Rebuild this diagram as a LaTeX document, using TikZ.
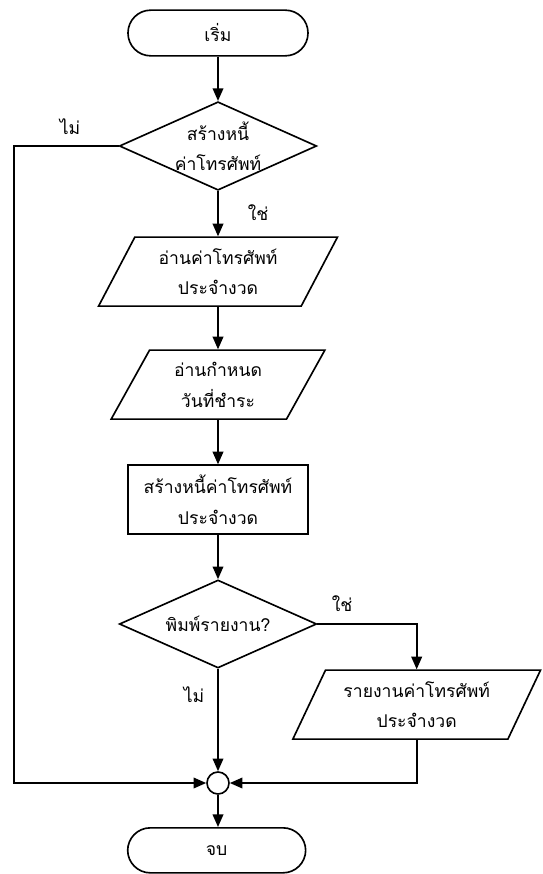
\documentclass[tikz,border=0pt]{standalone}
\usepackage{fontspec}
\newfontfamily\thaifont[Script=Thai]{Loma}
\usetikzlibrary{shapes.geometric, arrows.meta}

\begin{document}
\begin{tikzpicture}[line width=1.4pt, font=\thaifont\fontsize{15}{26}\selectfont,
  >={Triangle[length=0.38cm, width=0.32cm]}]
\tikzstyle{every node} = [fill=white, draw=none, align=center]
\tikzstyle{term} = [rectangle, draw, rounded corners=0.68cm, minimum width=5.4cm, minimum height=1.37cm]
\tikzstyle{decide} = [diamond, draw, aspect=2.2, minimum width=5.92cm, minimum height=2.64cm, inner sep=0pt]
\tikzstyle{io} = [trapezium, draw, trapezium left angle=63, trapezium right angle=117,
  trapezium stretches=true, minimum height=2.07cm]
\tikzstyle{proc} = [rectangle, draw, minimum width=5.4cm, minimum height=2.07cm]
\tikzstyle{tag} = [fill=none, inner sep=1pt]
\useasboundingbox (0,0) rectangle (16.29,-26.22);

% main column
\node (start) at (6.54,-0.99) [term] {เริ่ม};
\node (make) at (6.54,-4.38) [decide] {สร้างหนี้\\ค่าโทรศัพท์};
\node (readrate) at (6.54,-8.15) [io, minimum width=7.17cm] {อ่านค่าโทรศัพท์\\ประจำงวด};
\node (readdue) at (6.54,-11.54) [io, minimum width=6.42cm] {อ่านกำหนด\\วันที่ชำระ};
\node (build) at (6.54,-14.99) [proc] {สร้างหนี้ค่าโทรศัพท์\\ประจำงวด};
\node (print) at (6.54,-18.72) [decide] {พิมพ์รายงาน?};
\node (report) at (12.5,-21.14) [io, minimum width=7.44cm] {รายงานค่าโทรศัพท์\\ประจำงวด};
\node (join) at (6.54,-23.49) [circle, draw, minimum size=0.66cm, inner sep=0pt] {};
\node (stop) at (6.5,-25.51) [term, minimum width=5.34cm, minimum height=1.35cm] {จบ};
\coordinate (rail) at (0.42,-4.38);

% yes / no labels
\node (no1) at (2.1,-3.81) [tag] {ไม่};
\node (yes1) at (7.74,-6.39) [tag] {ใช่};
\node (yes2) at (10.26,-18.12) [tag] {ใช่};
\node (no2) at (5.82,-20.85) [tag] {ไม่};

\foreach \from/\to in {start/make, make/readrate, readrate/readdue, readdue/build, build/print, print/join}
  \draw [->] (\from) -- (\to);
\draw [->] (join.south) -- (join.south |- stop.north);
\draw [->] (print.east) -| (report.north);
\draw [->] (report.south) |- (join.east);
\draw [->] (make.west) -- (rail) |- (join.west);
\end{tikzpicture}
\end{document}
